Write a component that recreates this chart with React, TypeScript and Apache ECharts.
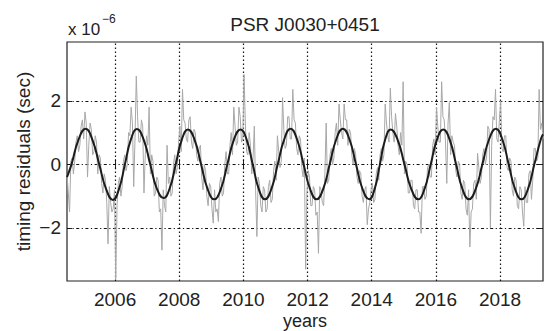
import { useEffect, useRef } from 'react';
import * as echarts from 'echarts';

const TITLE = 'PSR J0030+0451';
const X_NAME = 'years';
const Y_NAME = 'timing residuals (sec)';
const EXP_BASE = 'x 10';
const EXP_POWER = '\u22126';
const X_TICKS = [2006, 2008, 2010, 2012, 2014, 2016, 2018];
const Y_TICKS = [-2, 0, 2];
const X_MIN = 2004.5;
const X_MAX = 2019.34;
const Y_MIN = -3.67;
const Y_MAX = 3.85;

// timing residuals (units of 1e-6 s)
const RESIDUALS: [number, number][] = [
  [2004.50, -0.3], [2004.54, -0.9], [2004.58, -1.5], [2004.62, 0.1], [2004.66, 0.2], [2004.70, -0.3],
  [2004.74, 0.1], [2004.78, 0.7], [2004.82, 0.9], [2004.86, 0.4], [2004.90, 0.6], [2004.94, 1.2],
  [2004.98, 1.4], [2005.02, 0.8], [2005.06, 1.65], [2005.10, 1.3], [2005.14, -0.4], [2005.18, 0.6],
  [2005.22, 1.3], [2005.26, 1.1], [2005.30, 0.3], [2005.34, 0.4], [2005.38, 0.9], [2005.42, 0.7],
  [2005.46, -0.3], [2005.50, 0.3], [2005.54, 0.2], [2005.58, -0.6], [2005.62, -0.9], [2005.66, -0.3],
  [2005.70, -0.5], [2005.74, -1.2], [2005.78, -2.5], [2005.82, -0.7], [2005.86, -1.2], [2005.90, -1.5],
  [2005.94, -1.4], [2005.98, -0.8], [2006.02, -3.6], [2006.06, -1.3], [2006.10, -0.6], [2006.14, -0.4],
  [2006.18, -1.0], [2006.22, -0.7], [2006.26, 0.1], [2006.30, 0.3], [2006.34, -0.2], [2006.38, 0.0],
  [2006.42, 1.0], [2006.46, 0.9], [2006.50, 1.8], [2006.54, 1.3], [2006.58, -0.7], [2006.62, 0.8],
  [2006.66, 2.78], [2006.70, 1.5], [2006.74, 0.7], [2006.78, 0.7], [2006.82, 1.4], [2006.86, 1.2],
  [2006.90, -0.9], [2006.94, 0.3], [2006.98, 0.9], [2007.02, 0.6], [2007.06, 1.8], [2007.10, -0.3],
  [2007.14, 0.3], [2007.18, 0.1], [2007.22, -1.0], [2007.26, -0.9], [2007.30, -0.4], [2007.34, -0.5],
  [2007.38, -1.5], [2007.42, -1.4], [2007.46, -2.7], [2007.50, -0.8], [2007.54, -1.3], [2007.58, -1.5],
  [2007.62, 0.6], [2007.66, -0.6], [2007.70, -0.4], [2007.74, -1.0], [2007.78, -0.9], [2007.82, 0.0],
  [2007.86, 0.3], [2007.90, -0.3], [2007.94, -0.1], [2007.98, 0.7], [2008.02, 1.2], [2008.06, 0.4],
  [2008.10, 2.36], [2008.14, 1.4], [2008.18, 1.3], [2008.22, 0.8], [2008.26, 0.7], [2008.30, 1.4],
  [2008.34, 1.5], [2008.38, 0.7], [2008.42, 0.5], [2008.46, 1.1], [2008.50, 1.0], [2008.54, 0.3],
  [2008.58, 0.1], [2008.62, 0.5], [2008.66, 0.6], [2008.70, -0.4], [2008.74, -0.8], [2008.78, 0.0],
  [2008.82, -0.2], [2008.86, -1.0], [2008.90, -1.3], [2008.94, -0.6], [2008.98, -0.7], [2009.02, -1.4],
  [2009.06, -1.85], [2009.10, -0.8], [2009.14, -1.5], [2009.18, -1.4], [2009.22, -1.8], [2009.26, -0.6],
  [2009.30, -0.4], [2009.34, -1.0], [2009.38, -0.9], [2009.42, 0.0], [2009.46, 0.4], [2009.50, -0.3],
  [2009.54, -0.3], [2009.58, 0.6], [2009.62, 1.0], [2009.66, 0.3], [2009.70, 1.8], [2009.74, 1.2],
  [2009.78, 0.6], [2009.82, 0.7], [2009.86, 1.8], [2009.90, 1.5], [2009.94, 0.7], [2009.98, 0.8],
  [2010.02, 2.83], [2010.06, 1.3], [2010.10, 0.4], [2010.14, 0.3], [2010.18, 1.0], [2010.22, 0.6],
  [2010.26, -0.3], [2010.30, 0.2], [2010.34, 1.2], [2010.38, -0.8], [2010.42, -2.27], [2010.46, -0.4],
  [2010.50, -0.6], [2010.54, -1.3], [2010.58, -1.5], [2010.62, -0.7], [2010.66, -0.8], [2010.70, -1.5],
  [2010.74, -1.4], [2010.78, -0.7], [2010.82, -0.5], [2010.86, -1.2], [2010.90, -1.1], [2010.94, -0.2],
  [2010.98, 0.1], [2011.02, -0.5], [2011.06, 0.9], [2011.10, 0.4], [2011.14, -0.1], [2011.18, 0.1],
  [2011.22, 2.1], [2011.26, 1.1], [2011.30, 0.5], [2011.34, 0.6], [2011.38, 1.5], [2011.42, 1.5],
  [2011.46, 0.8], [2011.50, 0.8], [2011.54, 2.36], [2011.58, 1.4], [2011.62, 1.3], [2011.66, 0.5],
  [2011.70, 0.3], [2011.74, 0.9], [2011.78, 0.8], [2011.82, -0.1], [2011.86, -0.4], [2011.90, 0.2],
  [2011.94, -3.3], [2011.98, -0.9], [2012.02, -0.2], [2012.06, -0.4], [2012.10, -1.3], [2012.14, -1.3],
  [2012.18, -0.7], [2012.22, -0.8], [2012.26, -1.6], [2012.30, -1.5], [2012.34, -2.8], [2012.38, -0.7],
  [2012.42, -0.8], [2012.46, -1.2], [2012.50, -1.3], [2012.54, -0.3], [2012.58, 1.3], [2012.62, -0.6],
  [2012.66, -0.5], [2012.70, 0.3], [2012.74, 0.5], [2012.78, 0.0], [2012.82, 0.2], [2012.86, 1.0],
  [2012.90, 1.3], [2012.94, 0.6], [2012.98, 1.9], [2013.02, 1.4], [2013.06, 1.0], [2013.10, 0.8],
  [2013.14, 1.9], [2013.18, 1.4], [2013.22, 1.4], [2013.26, 0.6], [2013.30, 1.1], [2013.34, 1.0],
  [2013.38, 0.3], [2013.42, 0.0], [2013.46, 0.5], [2013.50, 0.3], [2013.54, -0.4], [2013.58, -0.6],
  [2013.62, -0.2], [2013.66, -0.3], [2013.70, -1.0], [2013.74, -1.2], [2013.78, -0.8], [2013.82, -0.7],
  [2013.86, -1.9], [2013.90, -1.4], [2013.94, -1.2], [2013.98, -0.8], [2014.02, -0.6], [2014.06, -1.2],
  [2014.10, -1.1], [2014.14, -0.3], [2014.18, -0.1], [2014.22, -0.5], [2014.26, 0.3], [2014.30, 0.5],
  [2014.34, 0.1], [2014.38, 0.3], [2014.42, 1.9], [2014.46, 1.3], [2014.50, 0.9], [2014.54, 0.7],
  [2014.58, 2.4], [2014.62, 1.5], [2014.66, 1.0], [2014.70, 0.7], [2014.74, 1.6], [2014.78, 1.2],
  [2014.82, 0.6], [2014.86, 0.3], [2014.90, 1.0], [2014.94, 0.6], [2014.98, 2.6], [2015.02, -0.3],
  [2015.06, 0.1], [2015.10, 0.0], [2015.14, -0.9], [2015.18, -0.9], [2015.22, -0.5], [2015.26, -0.5],
  [2015.30, -1.3], [2015.34, -1.4], [2015.38, -0.8], [2015.42, -0.8], [2015.46, -1.5], [2015.50, -1.5],
  [2015.54, -2.17], [2015.58, -0.7], [2015.62, -0.7], [2015.66, -1.1], [2015.70, -1.0], [2015.74, -0.1],
  [2015.78, 0.0], [2015.82, -0.4], [2015.86, -0.4], [2015.90, 0.6], [2015.94, 0.8], [2015.98, 0.3],
  [2016.02, 1.8], [2016.06, 1.2], [2016.10, 0.7], [2016.14, 0.7], [2016.18, 2.6], [2016.22, 1.5],
  [2016.26, 1.4], [2016.30, 0.7], [2016.34, -0.6], [2016.38, 1.3], [2016.42, 1.95], [2016.46, 0.3],
  [2016.50, 0.9], [2016.54, 0.7], [2016.58, 0.6], [2016.62, -0.2], [2016.66, -0.4], [2016.70, 0.1],
  [2016.74, 0.0], [2016.78, -0.9], [2016.82, -1.1], [2016.86, -0.5], [2016.90, -0.6], [2016.94, -1.4],
  [2016.98, -1.6], [2017.02, -0.8], [2017.06, -2.6], [2017.10, -1.5], [2017.14, -1.4], [2017.18, -0.6],
  [2017.22, -0.5], [2017.26, -1.1], [2017.30, 0.35], [2017.34, -0.1], [2017.38, -0.6], [2017.42, -0.4],
  [2017.46, 0.3], [2017.50, 0.5], [2017.54, 0.0], [2017.58, 0.2], [2017.62, 1.2], [2017.66, 1.1],
  [2017.70, -2.0], [2017.74, 0.6], [2017.78, 1.5], [2017.82, 1.4], [2017.86, 2.36], [2017.90, 0.8],
  [2017.94, 0.7], [2017.98, 1.4], [2018.02, 2.0], [2018.06, 0.5], [2018.10, 0.4], [2018.14, 0.9],
  [2018.18, 0.9], [2018.22, -0.1], [2018.26, -0.2], [2018.30, 0.2], [2018.34, 0.1], [2018.38, -0.8],
  [2018.42, -1.0], [2018.46, -0.4], [2018.50, -0.5], [2018.54, -1.3], [2018.58, -1.4], [2018.62, -0.7],
  [2018.66, -0.8], [2018.70, -1.5], [2018.74, -1.95], [2018.78, -0.7], [2018.82, -1.2], [2018.86, -1.2],
  [2018.90, -0.3], [2018.94, -0.2], [2018.98, -1.1], [2019.02, -0.5], [2019.06, 0.5], [2019.10, 0.5],
  [2019.14, 0.1], [2019.18, 0.2], [2019.22, 2.36], [2019.26, 1.1], [2019.30, 1.3], [2019.34, 0.8],
  [2019.38, 1.0],
];

// smooth fitted curve (peaks, troughs and in-between points)
const FIT: [number, number][] = [
  [2004.50, -0.40], [2004.64, 0], [2004.86, 0.78], [2005.08, 1.12], [2005.29, 0.78], [2005.505, 0],
  [2005.72, -0.78], [2005.93, -1.12], [2006.12, -0.78], [2006.305, 0], [2006.49, 0.78], [2006.68, 1.11],
  [2006.89, 0.78], [2007.095, 0], [2007.30, -0.76], [2007.51, -1.06], [2007.70, -0.76], [2007.89, 0],
  [2008.08, 0.78], [2008.27, 1.10], [2008.475, 0.78], [2008.68, 0], [2008.885, -0.78], [2009.09, -1.10],
  [2009.295, -0.78], [2009.50, 0], [2009.705, 0.78], [2009.91, 1.10], [2010.10, 0.78], [2010.29, 0],
  [2010.48, -0.78], [2010.67, -1.10], [2010.87, -0.78], [2011.07, 0], [2011.27, 0.78], [2011.47, 1.12],
  [2011.67, 0.79], [2011.875, 0], [2012.08, -0.78], [2012.28, -1.10], [2012.485, -0.78], [2012.69, 0],
  [2012.895, 0.79], [2013.10, 1.12], [2013.305, 0.79], [2013.51, 0], [2013.715, -0.78], [2013.92, -1.10],
  [2014.09, -0.78], [2014.255, 0], [2014.42, 0.78], [2014.59, 1.10], [2014.805, 0.78], [2015.02, 0],
  [2015.235, -0.78], [2015.45, -1.10], [2015.645, -0.78], [2015.84, 0], [2016.035, 0.78], [2016.23, 1.10],
  [2016.43, 0.78], [2016.63, 0], [2016.83, -0.78], [2017.03, -1.10], [2017.24, -0.78], [2017.45, 0],
  [2017.66, 0.79], [2017.87, 1.12], [2018.07, 0.79], [2018.27, 0], [2018.47, -0.78], [2018.67, -1.10],
  [2018.87, -0.78], [2019.07, 0], [2019.27, 0.78], [2019.34, 0.95],
];

const FONT = "'Liberation Sans', Arial, Helvetica, sans-serif";
const INK = '#222';
const FS = 19;

export default function App() {
  const ref = useRef<HTMLDivElement>(null);

  useEffect(() => {
    if (!ref.current) return;
    const chart = echarts.init(ref.current, null, { renderer: 'svg' });
    const fmtY = (v: number) => (v < 0 ? '\u2212' + Math.abs(v) : String(v));
    const fmtX = (v: number) => String(v);
    const tickStyle = { inside: true, length: 5, lineStyle: { color: INK, width: 1 } };

    chart.setOption({
      animation: false,
      backgroundColor: '#fff',
      grid: {
        left: 67,
        right: 1,
        top: 42,
        bottom: 50,
        outerBoundsMode: 'none',
        containLabel: false,
        show: true,
        borderColor: INK,
        borderWidth: 1.2,
        backgroundColor: 'transparent',
      },
      graphic: [
        {
          type: 'text',
          x: 305,
          y: 24,
          style: { text: TITLE, fontSize: FS, fontFamily: FONT, fill: INK, align: 'center', verticalAlign: 'middle' },
        },
        {
          type: 'text',
          x: 68,
          y: 29,
          style: { text: EXP_BASE, fontSize: 17, fontFamily: FONT, fill: INK, align: 'left', verticalAlign: 'middle' },
        },
        {
          type: 'text',
          x: 102,
          y: 19,
          style: { text: EXP_POWER, fontSize: 12, fontFamily: FONT, fill: INK, align: 'left', verticalAlign: 'middle' },
        },
        {
          type: 'text',
          x: 305,
          y: 321,
          style: { text: X_NAME, fontSize: 18, fontFamily: FONT, fill: INK, align: 'center', verticalAlign: 'middle' },
        },
      ],
      xAxis: [
        {
          type: 'value',
          min: X_MIN,
          max: X_MAX,
          position: 'bottom',
          axisLine: { show: false },
          splitLine: { show: false },
          axisTick: { ...tickStyle, customValues: X_TICKS },
          axisLabel: { customValues: X_TICKS, margin: 9, fontSize: FS, color: INK, fontFamily: FONT, formatter: fmtX },
        },
        {
          type: 'value',
          min: X_MIN,
          max: X_MAX,
          position: 'top',
          axisLine: { show: false },
          splitLine: { show: false },
          axisTick: { ...tickStyle, customValues: X_TICKS },
          axisLabel: { show: false },
        },
      ],
      yAxis: [
        {
          type: 'value',
          min: Y_MIN,
          max: Y_MAX,
          position: 'left',
          axisLine: { show: false },
          splitLine: { show: false },
          axisTick: { ...tickStyle, customValues: Y_TICKS },
          axisLabel: { customValues: Y_TICKS, margin: 6, fontSize: FS, color: INK, fontFamily: FONT, formatter: fmtY },
          name: Y_NAME,
          nameLocation: 'middle',
          nameRotate: 90,
          nameGap: 34,
          nameMoveOverlap: false,
          nameTextStyle: { fontSize: FS, color: INK, fontFamily: FONT },
        },
        {
          type: 'value',
          min: Y_MIN,
          max: Y_MAX,
          position: 'right',
          axisLine: { show: false },
          splitLine: { show: false },
          axisTick: { ...tickStyle, customValues: Y_TICKS },
          axisLabel: { show: false },
        },
      ],
      series: [
        {
          type: 'line',
          data: RESIDUALS,
          showSymbol: false,
          z: 2,
          lineStyle: { color: '#a8a8a8', width: 1 },
          markLine: {
            silent: true,
            symbol: 'none',
            z: 1,
            label: { show: false },
            lineStyle: { color: '#111', width: 1.2 },
            data: [
              ...X_TICKS.map((x) => ({ xAxis: x, lineStyle: { color: '#111', width: 1.2, type: [1.5, 2.5] } })),
              ...Y_TICKS.map((y) => ({ yAxis: y, lineStyle: { color: '#111', width: 1.2, type: [3, 2.5, 1.2, 2.5] } })),
            ],
          },
        },
        {
          type: 'line',
          data: FIT,
          showSymbol: false,
          smooth: 0.5,
          z: 3,
          lineStyle: { color: '#1c1c1c', width: 2 },
        },
      ],
    });

    return () => chart.dispose();
  }, []);

  return <div ref={ref} style={{ position: 'fixed', left: 0, top: 0, width: 544, height: 331 }} />;
}
